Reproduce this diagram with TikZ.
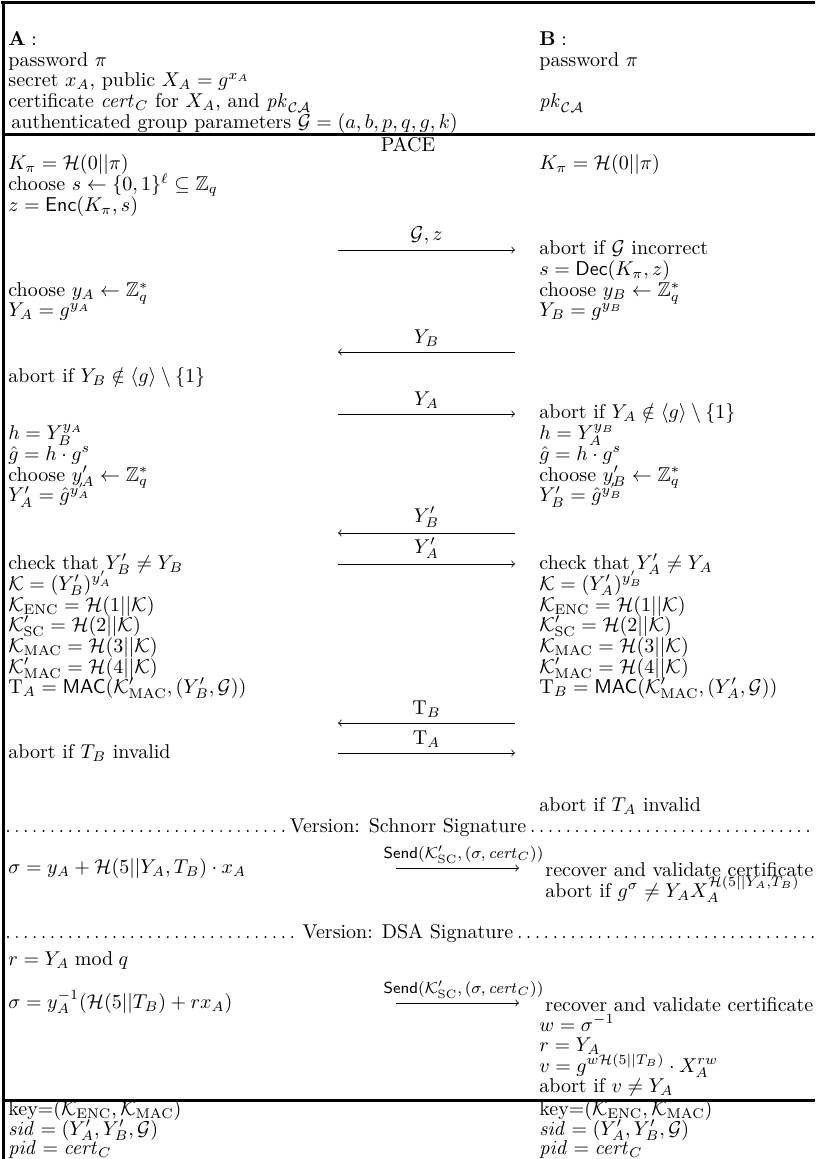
\documentclass[tikz,border=0pt]{standalone}
\usepackage{amsmath,amssymb}
\newcommand{\Hash}{\mathcal{H}}
\newcommand{\Kk}{\mathcal{K}}
\newcommand{\Gg}{\mathcal{G}}
\newcommand{\certC}{\mathit{cert}_C}

\begin{document}
\begin{tikzpicture}[x=0.5pt, y=-0.5pt,
  txt/.style={anchor=base west, inner sep=0pt},
  ctxt/.style={anchor=base, inner sep=0pt},
  msg/.style={->},
  lbl/.style={above, inner sep=2.5pt},
  sendlbl/.style={above, inner sep=2pt, font=\footnotesize},
  hrule/.style={line width=1.5pt},
  dotrow/.style={line width=1.1pt, line cap=round, dash pattern=on 0pt off 4.44pt}]
\useasboundingbox (0,0) rectangle (815,1159);
% frame and rules of the protocol table
\draw[hrule] (1,3) -- (815,3);
\draw[hrule] (3,2) -- (3,1159);
\draw[hrule] (3,135) -- (815,135);
\draw[hrule] (3,1100) -- (815,1100);
% set-up
\node[txt] (hA) at (8,46) {$\mathbf{A}:$};
\node[txt] (hB) at (539,46) {$\mathbf{B}:$};
\node[txt] (pwA) at (8,67) {password $\pi$};
\node[txt] (pwB) at (539,67) {password $\pi$};
\node[txt] (skA) at (8,87) {secret $x_A$, public $X_A=g^{x_A}$};
\node[txt] (certA) at (8,108) {certificate $\certC$ for $X_A$, and $\mathit{pk}_{\mathcal{CA}}$};
\node[txt] (pkB) at (539,108) {$\mathit{pk}_{\mathcal{CA}}$};
\node[txt] (grp) at (11,129) {authenticated group parameters $\Gg=(a,b,p,q,g,k)$};
% PACE
\node[ctxt] (pace) at (408,152) {PACE};
\node[txt] (kpA) at (8,170) {$K_\pi=\Hash(0||\pi)$};
\node[txt] (kpB) at (539,170) {$K_\pi=\Hash(0||\pi)$};
\node[txt] (sA) at (8,191) {choose $s\leftarrow\{0,1\}^\ell\subseteq\mathbb{Z}_q$};
\node[txt] (zA) at (8,212) {$z=\mathsf{Enc}(K_\pi,s)$};
\coordinate (m1s) at (338,250);
\coordinate (m1e) at (515,250);
\draw[msg] (m1s) -- node[lbl] (m1l) {$\Gg,z$} (m1e);
\node[txt] (gB) at (539,255) {abort if $\Gg$ incorrect};
\node[txt] (sB) at (539,276) {$s=\mathsf{Dec}(K_\pi,z)$};
\node[txt] (yA) at (8,297) {choose $y_A\leftarrow\mathbb{Z}_q^*$};
\node[txt] (yB) at (539,297) {choose $y_B\leftarrow\mathbb{Z}_q^*$};
\node[txt] (YA) at (8,317) {$Y_A=g^{y_A}$};
\node[txt] (YB) at (539,317) {$Y_B=g^{y_B}$};
\coordinate (m2s) at (515,352);
\coordinate (m2e) at (338,352);
\draw[msg] (m2s) -- node[lbl] (m2l) {$Y_B$} (m2e);
\node[txt] (chkA) at (8,383) {abort if $Y_B\notin\langle g\rangle\setminus\{1\}$};
\coordinate (m3s) at (338,414);
\coordinate (m3e) at (515,414);
\draw[msg] (m3s) -- node[lbl] (m3l) {$Y_A$} (m3e);
\node[txt] (chkB) at (539,419) {abort if $Y_A\notin\langle g\rangle\setminus\{1\}$};
\node[txt] (hA2) at (8,440) {$h=Y_B^{y_A}$};
\node[txt] (hB2) at (539,440) {$h=Y_A^{y_B}$};
\node[txt] (ghA) at (8,460) {$\hat g=h\cdot g^s$};
\node[txt] (ghB) at (539,460) {$\hat g=h\cdot g^s$};
\node[txt] (ypA) at (8,481) {choose $y'_A\leftarrow\mathbb{Z}_q^*$};
\node[txt] (ypB) at (539,481) {choose $y'_B\leftarrow\mathbb{Z}_q^*$};
\node[txt] (YpA) at (8,502) {$Y'_A=\hat g^{y'_A}$};
\node[txt] (YpB) at (539,502) {$Y'_B=\hat g^{y'_B}$};
\coordinate (m4s) at (515,533);
\coordinate (m4e) at (338,533);
\draw[msg] (m4s) -- node[lbl] (m4l) {$Y'_B$} (m4e);
\coordinate (m5s) at (338,564);
\coordinate (m5e) at (515,564);
\draw[msg] (m5s) -- node[lbl] (m5l) {$Y'_A$} (m5e);
\node[txt] (neA) at (8,569) {check that $Y'_B\neq Y_B$};
\node[txt] (neB) at (539,569) {check that $Y'_A\neq Y_A$};
\node[txt] (kA) at (8,590) {$\Kk=(Y'_B)^{y'_A}$};
\node[txt] (kB) at (539,590) {$\Kk=(Y'_A)^{y'_B}$};
\node[txt] (kencA) at (8,611) {$\Kk_{\mathrm{ENC}}=\Hash(1||\Kk)$};
\node[txt] (kencB) at (539,611) {$\Kk_{\mathrm{ENC}}=\Hash(1||\Kk)$};
\node[txt] (kscA) at (8,631) {$\Kk'_{\mathrm{SC}}=\Hash(2||\Kk)$};
\node[txt] (kscB) at (539,631) {$\Kk'_{\mathrm{SC}}=\Hash(2||\Kk)$};
\node[txt] (kmacA) at (8,652) {$\Kk_{\mathrm{MAC}}=\Hash(3||\Kk)$};
\node[txt] (kmacB) at (539,652) {$\Kk_{\mathrm{MAC}}=\Hash(3||\Kk)$};
\node[txt] (kmpA) at (8,673) {$\Kk'_{\mathrm{MAC}}=\Hash(4||\Kk)$};
\node[txt] (kmpB) at (539,673) {$\Kk'_{\mathrm{MAC}}=\Hash(4||\Kk)$};
\node[txt] (tagA) at (8,693) {$\mathrm{T}_A=\mathsf{MAC}(\Kk'_{\mathrm{MAC}},(Y'_B,\Gg))$};
\node[txt] (tagB) at (539,693) {$\mathrm{T}_B=\mathsf{MAC}(\Kk'_{\mathrm{MAC}},(Y'_A,\Gg))$};
\coordinate (m6s) at (515,723);
\coordinate (m6e) at (338,723);
\draw[msg] (m6s) -- node[lbl] (m6l) {$\mathrm{T}_B$} (m6e);
\coordinate (m7s) at (338,753);
\coordinate (m7e) at (515,753);
\draw[msg] (m7s) -- node[lbl] (m7l) {$\mathrm{T}_A$} (m7e);
\node[txt] (vtA) at (8,758) {abort if $T_B$ invalid};
\node[txt] (vtB) at (539,811) {abort if $T_A$ invalid};
% Schnorr version
\node[ctxt] (schn) at (408,832) {Version: Schnorr Signature};
\coordinate (d1a) at (8,831);
\coordinate (d1b) at ([xshift=-3pt,yshift=0.5pt]schn.base west);
\coordinate (d1c) at ([xshift=3pt,yshift=0.5pt]schn.base east);
\coordinate (d1d) at (815,831);
\draw[dotrow] (d1a) -- (d1b);
\draw[dotrow] (d1c) -- (d1d);
\node[txt] (sgA) at (8,873) {$\sigma=y_A+\Hash(5||Y_A,T_B)\cdot x_A$};
\coordinate (m8s) at (396,868);
\coordinate (m8e) at (519,868);
\draw[msg] (m8s) -- node[sendlbl, xshift=3pt] (m8l) {$\mathsf{Send}(\Kk'_{\mathrm{SC}},(\sigma,\certC))$} (m8e);
\node[txt] (recB1) at (545,876) {recover and validate certificate};
\node[txt] (sgB) at (545,897) {abort if $g^\sigma\neq Y_AX_A^{\Hash(5||Y_A,T_B)}$};
% DSA version
\node[ctxt] (dsa) at (408,938) {Version: DSA Signature};
\coordinate (d2a) at (8,937);
\coordinate (d2b) at ([xshift=-3pt,yshift=0.5pt]dsa.base west);
\coordinate (d2c) at ([xshift=3pt,yshift=0.5pt]dsa.base east);
\coordinate (d2d) at (815,937);
\draw[dotrow] (d2a) -- (d2b);
\draw[dotrow] (d2c) -- (d2d);
\node[txt] (rA) at (8,965) {$r=Y_A\bmod q$};
\node[txt] (dsA) at (8,1008) {$\sigma=y_A^{-1}(\Hash(5||T_B)+rx_A)$};
\coordinate (m9s) at (396,1003);
\coordinate (m9e) at (519,1003);
\draw[msg] (m9s) -- node[sendlbl, xshift=3pt] (m9l) {$\mathsf{Send}(\Kk'_{\mathrm{SC}},(\sigma,\certC))$} (m9e);
\node[txt] (recB2) at (545,1011) {recover and validate certificate};
\node[txt] (wB) at (539,1031) {$w=\sigma^{-1}$};
\node[txt] (rB) at (539,1051) {$r=Y_A$};
\node[txt] (vB) at (539,1072) {$v=g^{w\Hash(5||T_B)}\cdot X_A^{rw}$};
\node[txt] (avB) at (539,1092) {abort if $v\neq Y_A$};
% output
\node[txt] (keyA) at (8,1115) {key$=$$(\Kk_{\mathrm{ENC}},\Kk_{\mathrm{MAC}})$};
\node[txt] (keyB) at (539,1115) {key$=$$(\Kk_{\mathrm{ENC}},\Kk_{\mathrm{MAC}})$};
\node[txt] (sidA) at (8,1135) {$\mathit{sid}=(Y'_A,Y'_B,\Gg)$};
\node[txt] (sidB) at (539,1135) {$\mathit{sid}=(Y'_A,Y'_B,\Gg)$};
\node[txt] (pidA) at (8,1154) {$\mathit{pid}=\certC$};
\node[txt] (pidB) at (539,1154) {$\mathit{pid}=\certC$};
\end{tikzpicture}
\end{document}
